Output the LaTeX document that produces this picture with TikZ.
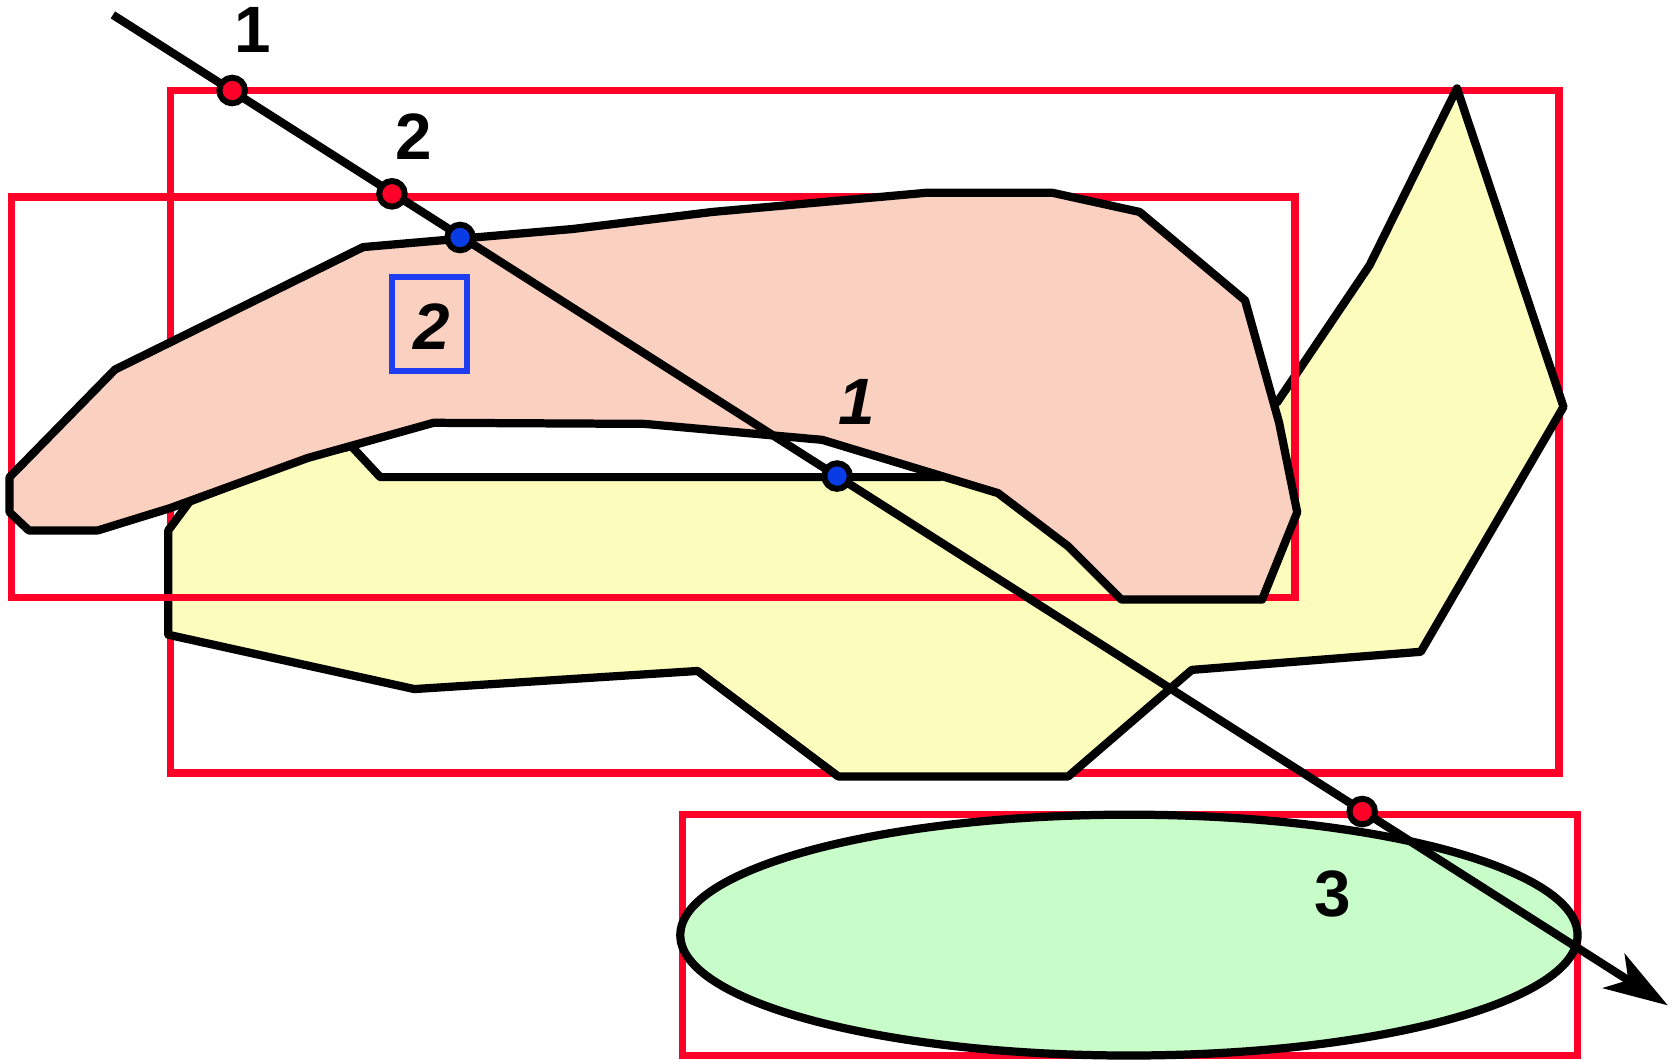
\documentclass[tikz,border=0pt]{standalone}
\usepackage{fontspec}
\setmainfont{Liberation Sans}
\usetikzlibrary{arrows.meta}

\definecolor{boxred}{RGB}{255,0,40}
\definecolor{boxblue}{RGB}{30,60,240}
\definecolor{dotblue}{RGB}{10,60,230}
\definecolor{pinkfill}{RGB}{250,208,192}
\definecolor{yellowfill}{RGB}{252,252,188}
\definecolor{greenfill}{RGB}{200,252,200}

\begin{document}
\begin{tikzpicture}[x=0.01cm, y=-0.01cm,
		outline/.style={draw=black, line width=2.2pt, line join=round},
		bbox/.style={draw=boxred, line width=2pt},
		hit/.style={circle, draw=black, line width=1.6pt, inner sep=0pt, minimum size=0.24cm},
		num/.style={font=\fontsize{17.5}{20}\selectfont\bfseries, inner sep=0pt},
		numit/.style={font=\fontsize{17.5}{20}\selectfont\bfseries\itshape, inner sep=0pt}]
		\useasboundingbox (0,0) rectangle (1568,994.4);
		\draw[bbox] (160,85) rectangle (1464,726);
		% object 1
		\draw[outline, fill=yellowfill] (1368,83) -- (1468,382) -- (1334,612) -- (1119,629) -- (1003,729) -- (787,729) -- (655,630) -- (389,647) -- (158,596) -- (158,498) -- (178,471) -- (289,428) -- (330,419) -- (357,448) -- (881,448) -- (1199,378) -- (1286,249) -- cycle;
		\draw[bbox] (11,185) rectangle (1216,561);
		% object 2
		\draw[outline, fill=pinkfill] (9,448) -- (108,347) -- (341,232) -- (538,215) -- (669,199) -- (870,181) -- (988,181) -- (1070,199) -- (1169,282) -- (1201,397) -- (1218,481) -- (1185,563) -- (1053,563) -- (1003,513) -- (937,463) -- (772,413) -- (605,398) -- (407,397) -- (289,430) -- (160,477) -- (92,498) -- (27,498) -- (9,481) -- cycle;
		\draw[bbox] (641,765) rectangle (1481,991);
		% object 3
		\draw[outline, fill=greenfill] (1060,878) ellipse (4.21cm and 1.13cm);
		% the ray
		\coordinate (start) at (106,14);
		\coordinate (tip) at (1566,944);
		\draw[line width=2.2pt, -{Stealth[length=6mm, width=3.8mm, inset=1.6mm]}] (start) -- (tip);
		\node[hit, fill=boxred] (enter1) at (218,85) {};
		\node[hit, fill=boxred] (enter2) at (368,182) {};
		\node[hit, fill=dotblue] (cross1) at (432,223) {};
		\node[hit, fill=dotblue] (cross2) at (786,447) {};
		\node[hit, fill=boxred] (enter3) at (1279,762) {};
		% labels
		\node[num] (lab1) at (237,28) {1};
		\node[num] (lab2) at (388,128) {2};
		\node[num] (lab3) at (1251,839) {3};
		\node[numit] (obj1) at (804,377) {1};
		\node[draw=boxblue, line width=1.6pt, minimum width=0.7cm, minimum height=0.88cm] (obj2box) at (403,304) {};
		\node[numit] (obj2) at (405,307) {2};
	\end{tikzpicture}
\end{document}
